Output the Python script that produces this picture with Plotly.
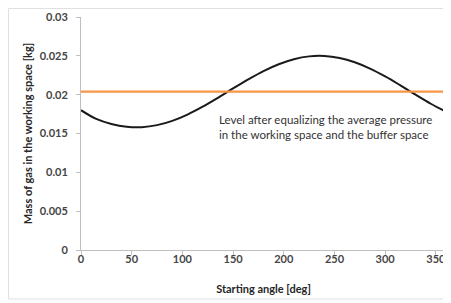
import plotly.graph_objects as go

angle_deg = [0, 15, 30, 45, 60, 75, 90, 105, 120, 135, 150, 165, 180,
             195, 210, 225, 240, 255, 270, 285, 300, 315, 330, 345, 360]
mass_kg = [0.0180, 0.01688, 0.01623, 0.01587, 0.01582, 0.01608, 0.01663,
           0.01744, 0.01845, 0.0196, 0.0208, 0.02197, 0.02304, 0.02392,
           0.02457, 0.02493, 0.02498, 0.02472, 0.02417, 0.02336, 0.02235,
           0.0212, 0.0200, 0.01883, 0.0178]
level_x = [0, 360]
level_kg = [0.0204, 0.0204]

x_ticks = [0, 50, 100, 150, 200, 250, 300, 350]
y_ticks = [0, 0.005, 0.01, 0.015, 0.02, 0.025, 0.03]
y_tick_labels = ["<b>0</b>", "<b>0.005</b>", "<b>0.01</b>", "<b>0.015</b>",
                 "<b>0.02</b>", "<b>0.025</b>", "<b>0.03</b>"]
x_tick_labels = ["<b>0</b>", "<b>50</b>", "<b>100</b>", "<b>150</b>", "<b>200</b>",
                 "<b>250</b>", "<b>300</b>", "<b>350</b>"]

FONT = "Lato, Open Sans, sans-serif"
GRAY_TXT = "#454545"
AXIS_COL = "#bfbfbf"

fig = go.Figure()
fig.add_trace(go.Scatter(x=angle_deg, y=mass_kg, mode="lines",
                         line=dict(color="#1a1a1a", width=2, shape="spline"),
                         showlegend=False, hoverinfo="skip"))
fig.add_trace(go.Scatter(x=level_x, y=level_kg, mode="lines",
                         line=dict(color="#f79646", width=2.2),
                         showlegend=False, hoverinfo="skip"))

# page body has an 8px margin, so the figure is offset by (8, 8)
W, H = 443, 295
L, R, T, B = 73, 5, 9, 53
pw, ph = W - L - R, H - T - B

def px_to_paper_x(px):
    return (px - L) / pw

def px_to_paper_y(py):
    return (H - B - py) / ph

fig.add_annotation(x=134, y=0.01585, xref="x", yref="y", xanchor="left", yanchor="middle",
                   text="Level after equalizing the average pressure<br>in the working space and the buffer space",
                   showarrow=False, align="left",
                   font=dict(family=FONT, size=11.5, color="#333333"))

# right plot border
fig.add_shape(type="line", xref="paper", yref="paper", x0=1, x1=1, y0=0, y1=1,
              line=dict(color=AXIS_COL, width=1))
# outer chart border
fig.add_shape(type="rect", xref="paper", yref="paper",
              x0=px_to_paper_x(0.5), x1=px_to_paper_x(442),
              y0=px_to_paper_y(291), y1=px_to_paper_y(0.5),
              line=dict(color="#e0e0e0", width=1), layer="below")

fig.update_layout(
    width=W, height=H,
    margin=dict(l=L, r=R, t=T, b=B, autoexpand=False),
    paper_bgcolor="white", plot_bgcolor="white",
    font=dict(family=FONT, color=GRAY_TXT),
    xaxis=dict(range=[0, 360], tickvals=x_ticks, ticktext=x_tick_labels,
               showgrid=False, zeroline=False, automargin=False,
               showline=True, linecolor=AXIS_COL, linewidth=1,
               ticks="outside", ticklen=4, tickcolor=AXIS_COL,
               ticklabelstandoff=-5,
               tickfont=dict(family=FONT, size=11, color=GRAY_TXT),
               title=dict(text="<b>Starting angle [deg]</b>", standoff=21,
                          font=dict(family=FONT, size=11, color="#262626"))),
    yaxis=dict(range=[0, 0.03], tickvals=y_ticks, ticktext=y_tick_labels,
               showgrid=False, zeroline=False, automargin=False,
               showline=True, linecolor=AXIS_COL, linewidth=1,
               ticks="outside", ticklen=4, tickcolor=AXIS_COL,
               ticklabelstandoff=6,
               tickfont=dict(family=FONT, size=11, color=GRAY_TXT),
               title=dict(text="<b>Mass of gas in the working space [kg]</b>", standoff=4,
                          font=dict(family=FONT, size=11, color="#262626"))),
)

fig.write_html("out.html")
